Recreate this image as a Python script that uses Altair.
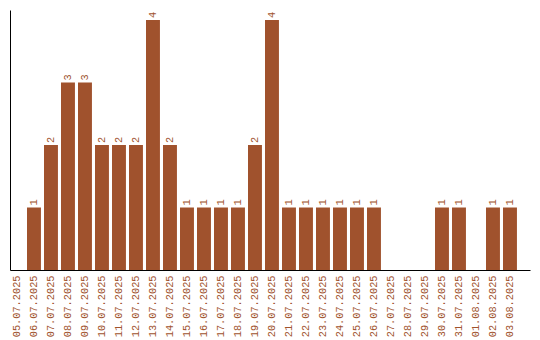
import altair as alt
import pandas as pd

dates = ["05.07.2025", "06.07.2025", "07.07.2025", "08.07.2025", "09.07.2025",
         "10.07.2025", "11.07.2025", "12.07.2025", "13.07.2025", "14.07.2025",
         "15.07.2025", "16.07.2025", "17.07.2025", "18.07.2025", "19.07.2025",
         "20.07.2025", "21.07.2025", "22.07.2025", "23.07.2025", "24.07.2025",
         "25.07.2025", "26.07.2025", "27.07.2025", "28.07.2025", "29.07.2025",
         "30.07.2025", "31.07.2025", "01.08.2025", "02.08.2025", "03.08.2025"]
counts = [0, 1, 2, 3, 3, 2, 2, 2, 4, 2,
          1, 1, 1, 1, 2, 4, 1, 1, 1, 1,
          1, 1, 0, 0, 0, 1, 1, 0, 1, 1]

df = pd.DataFrame({"date": dates, "count": counts})
df["label"] = df["count"].apply(lambda v: str(v) if v > 0 else "")

COLOR = "#A0522D"
FONT = "Liberation Mono"

x = alt.X("date:N", sort=dates,
          scale=alt.Scale(paddingInner=0.18, paddingOuter=0.384, align=0),
          axis=alt.Axis(title=None, labelAngle=-90, ticks=False, labelPadding=5,
                        labelColor=COLOR, labelFont=FONT, labelFontSize=10.3,
                        domainColor="black", domainWidth=1, grid=False))
y = alt.Y("count:Q", scale=alt.Scale(domain=[0, 4.16], nice=False),
          axis=alt.Axis(title=None, labels=False, ticks=False, grid=False,
                        domainColor="black", domainWidth=1))

bars = alt.Chart(df).mark_bar(color=COLOR).encode(x=x, y=y)
text = alt.Chart(df).mark_text(angle=270, align="left", baseline="middle", dx=2,
                               color=COLOR, font=FONT, fontSize=10.3).encode(
    x=alt.X("date:N", sort=dates), y="count:Q", text="label:N")

chart = (bars + text).properties(
    width=520, height=260,
    padding={"left": 10, "top": 10, "right": 5, "bottom": 0},
    background="white",
).configure_view(stroke=None)

chart.save("out.html", embed_options={"renderer": "svg", "actions": False})
